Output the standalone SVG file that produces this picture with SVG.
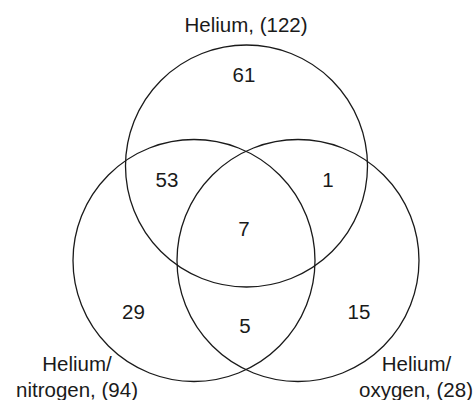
<svg xmlns="http://www.w3.org/2000/svg" width="476" height="400" viewBox="0 0 476 400">
<style>
.c{fill:none;stroke:#1a1a1a;stroke-width:1.3}
text{font-family:"Liberation Sans",Arial,sans-serif;font-size:20.5px;fill:#1a1a1a;text-anchor:middle}
</style>
<rect width="476" height="400" fill="#fff"/>
<g id="helium"><circle class="c" cx="246.5" cy="166" r="121"/><text x="246" y="32">Helium, (122)</text></g>
<g id="helium-nitrogen"><circle class="c" cx="194" cy="260.5" r="121"/><text x="77" y="370.5">Helium/</text><text x="77" y="396.5">nitrogen, (94)</text></g>
<g id="helium-oxygen"><circle class="c" cx="298" cy="260.5" r="121"/><text x="416.5" y="370.5">Helium/</text><text x="416" y="396.5">oxygen, (28)</text></g>
<g id="counts">
<text x="244" y="82">61</text>
<text x="167" y="187">53</text>
<text x="328" y="187">1</text>
<text x="244" y="236">7</text>
<text x="133.5" y="318.5">29</text>
<text x="245" y="333">5</text>
<text x="359" y="318.5">15</text>
</g>
</svg>
